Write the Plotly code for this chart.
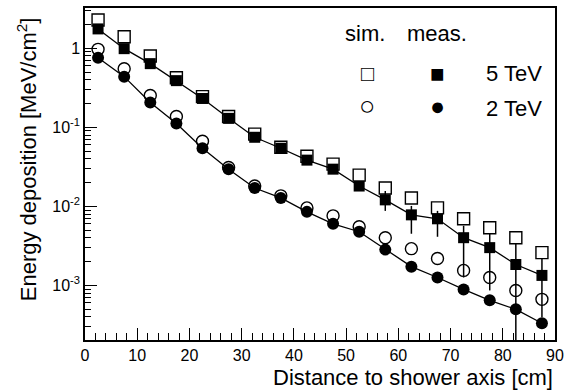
import plotly.graph_objects as go

# ---- data ----
distance = [2.5, 7.5, 12.5, 17.5, 22.5, 27.5, 32.5, 37.5, 42.5, 47.5,
            52.5, 57.5, 62.5, 67.5, 72.5, 77.5, 82.5, 87.5]

meas_5tev = [1.76, 0.99, 0.64, 0.39, 0.232, 0.130, 0.0749, 0.0544, 0.0385, 0.0296,
             0.0181, 0.0121, 0.00782, 0.00697, 0.00402, 0.00301, 0.00184, 0.00134]
sim_5tev = [2.28, 1.40, 0.80, 0.425, 0.245, 0.137, 0.082, 0.056, 0.0432, 0.0343,
            0.0249, 0.0171, 0.0128, 0.00957, 0.00697, 0.00537, 0.00402, 0.00260]
meas_2tev = [0.760, 0.438, 0.206, 0.112, 0.0544, 0.0296, 0.0171, 0.0128, 0.00853, 0.00603,
             0.00478, 0.00284, 0.00173, 0.00126, 0.000891, 0.000648, 0.000499, 0.000333]
sim_2tev = [0.97, 0.552, 0.253, 0.137, 0.0667, 0.031, 0.0181, 0.0136, 0.00957, 0.00760,
            0.00552, 0.00402, 0.00292, 0.00219, 0.00155, 0.00126, 0.000865, 0.000667]

# error band limits for 5 TeV measurement (None = no error bar)
err_hi_5tev = [None] * 11 + [0.01567, 0.01014, 0.00878, 0.00569, 0.00451, 0.00338, 0.00219]
err_lo_5tev = [None] * 11 + [0.00878, 0.00451, 0.00413, 0.00126, 0.000865, 0.00015, 0.000396]

x_tickvals = [0, 10, 20, 30, 40, 50, 60, 70, 80, 90]
y_tickvals = [1e-3, 1e-2, 1e-1, 1]
y_ticktext = ["10<sup>-3</sup>", "10<sup>-2</sup>", "10<sup>-1</sup>", "1"]

x_title = "Distance to shower axis [cm]"
y_title = "Energy deposition [MeV/cm<sup>2</sup>]"

plus = [(h - v) if h is not None else 0 for h, v in zip(err_hi_5tev, meas_5tev)]
minus = [(v - l) if l is not None else 0 for l, v in zip(err_lo_5tev, meas_5tev)]

FONT = "Liberation Sans, Arial, Helvetica, sans-serif"

fig = go.Figure()

# simulations (open symbols)
fig.add_trace(go.Scatter(x=distance, y=sim_5tev, mode="markers",
                         marker=dict(symbol="square-open", size=12, color="black",
                                     line=dict(width=1.4, color="black")),
                         showlegend=False))
fig.add_trace(go.Scatter(x=distance, y=sim_2tev, mode="markers",
                         marker=dict(symbol="circle-open", size=12, color="black",
                                     line=dict(width=1.4, color="black")),
                         showlegend=False))

# measurements (filled symbols + connecting curve)
fig.add_trace(go.Scatter(x=distance, y=meas_5tev, mode="lines+markers",
                         line=dict(color="black", width=1.3),
                         marker=dict(symbol="square", size=11, color="black"),
                         error_y=dict(type="data", symmetric=False, array=plus, arrayminus=minus,
                                      color="black", thickness=1.5, width=0),
                         showlegend=False))
fig.add_trace(go.Scatter(x=distance, y=meas_2tev, mode="lines+markers",
                         line=dict(color="black", width=1.3),
                         marker=dict(symbol="circle", size=12, color="black"),
                         showlegend=False))

# in-plot legend and axis titles
ann = []
def txt(x, y, t, size=22, xanchor="center", angle=0):
    ann.append(dict(x=x, y=y, xref="paper", yref="paper", text=t, showarrow=False,
                    xanchor=xanchor, yanchor="middle", textangle=angle,
                    font=dict(family=FONT, size=size, color="black")))

txt(0.596, 0.922, "sim.")
txt(0.749, 0.922, "meas.")
txt(0.600, 0.802, "□", size=22)
txt(0.749, 0.802, "■", size=24)
txt(0.600, 0.704, "○", size=27)
txt(0.749, 0.704, "●", size=25)
txt(0.849, 0.802, "5 TeV", xanchor="left")
txt(0.849, 0.698, "2 TeV", xanchor="left")
txt(1.0, -0.113, x_title, size=22, xanchor="right")
txt(-0.123, 0.545, y_title, size=22, angle=-90)

fig.update_layout(
    width=578, height=390,
    margin=dict(l=85, r=23, t=6, b=50),
    paper_bgcolor="white", plot_bgcolor="white",
    font=dict(family=FONT, color="black", size=16),
    annotations=ann,
    xaxis=dict(range=[0, 90], tickmode="array", tickvals=x_tickvals,
               ticks="inside", ticklen=12, tickwidth=1.3, tickcolor="black",
               showline=True, linecolor="black", linewidth=1.5, mirror=True,
               showgrid=False, zeroline=False,
               tickfont=dict(size=16),
               minor=dict(dtick=2, ticks="inside", ticklen=7, tickwidth=1.1, tickcolor="black", showgrid=False)),
    yaxis=dict(type="log", range=[-3.69, 0.51], tickmode="array", tickvals=y_tickvals,
               ticktext=y_ticktext,
               ticks="inside", ticklen=12, tickwidth=1.3, tickcolor="black",
               showline=True, linecolor="black", linewidth=1.5, mirror=True,
               showgrid=False, zeroline=False,
               tickfont=dict(size=16),
               minor=dict(dtick="D1", ticks="inside", ticklen=6, tickwidth=1.1, tickcolor="black", showgrid=False)),
)

fig.write_html("out.html")
